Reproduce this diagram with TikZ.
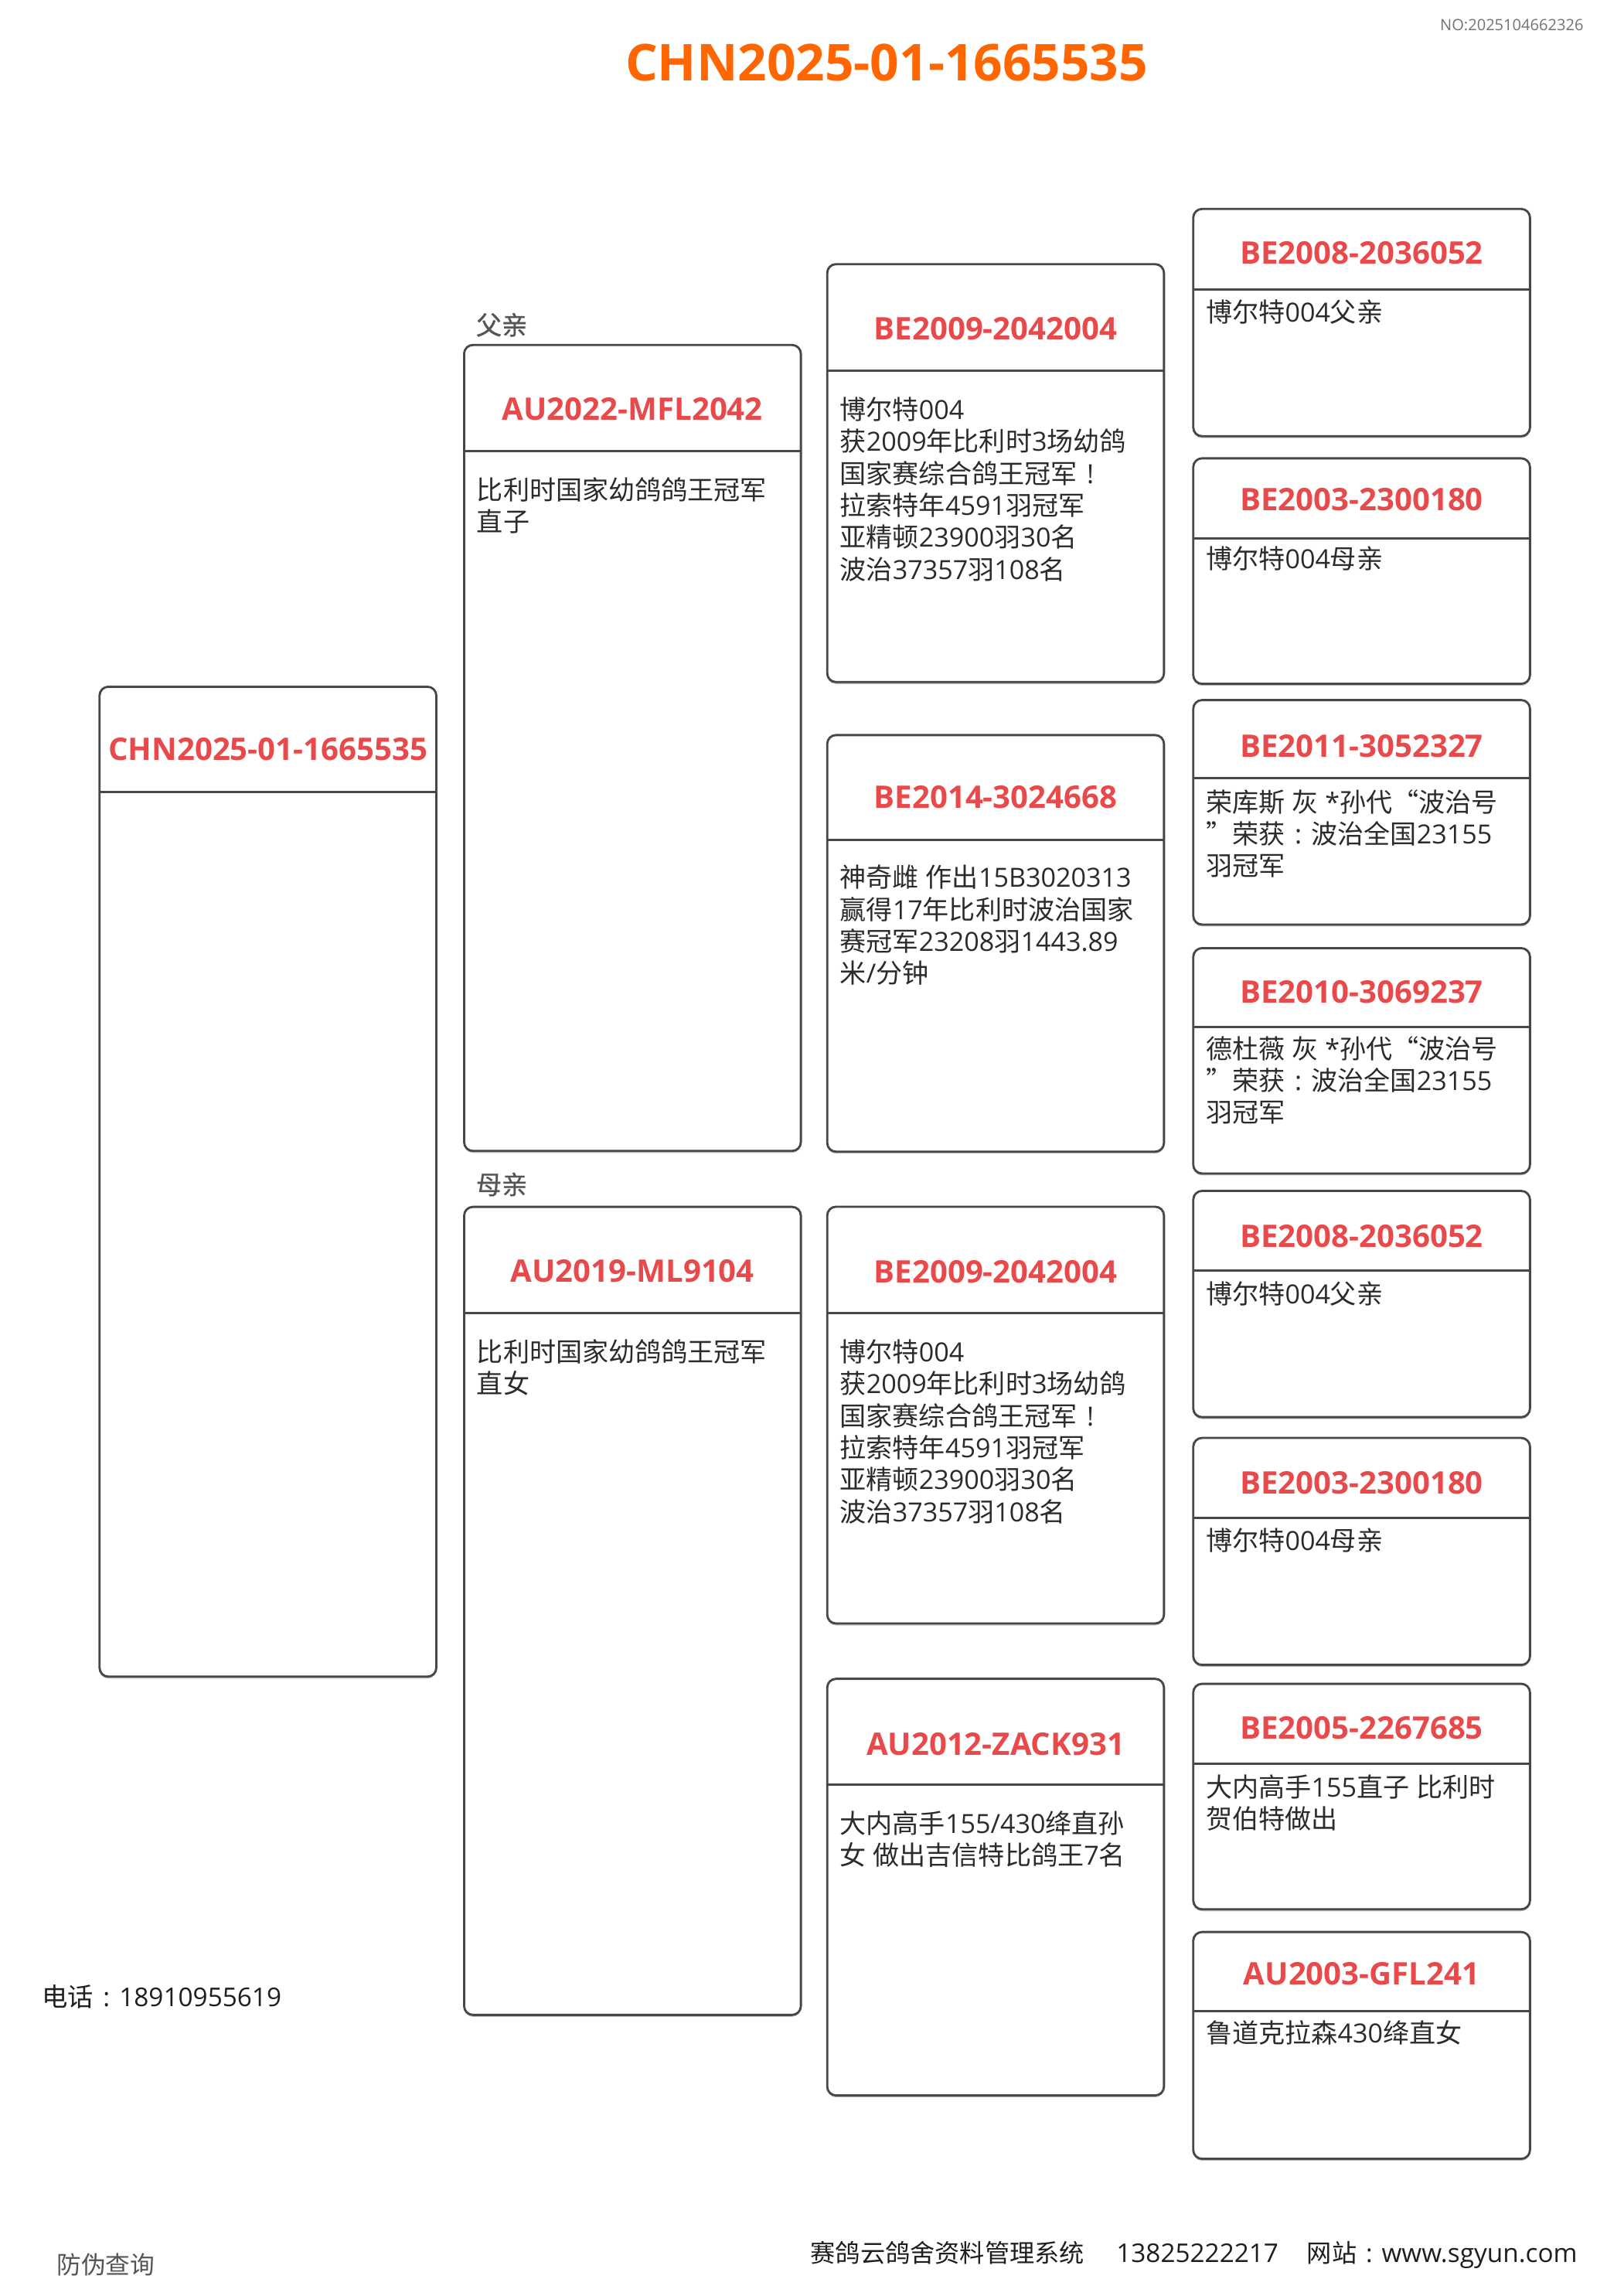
\documentclass[tikz,border=0pt]{standalone}
\usepackage{fontspec}
\setmainfont{Open Sans}
\newfontfamily\cjkfam{Noto Sans CJK SC}
\newfontfamily\cjklab[FakeBold=0.9]{Noto Sans CJK SC}
\usetikzlibrary{shadows}
% switch to the CJK font for CJK characters, back to Open Sans for the rest
\XeTeXinterchartokenstate=1
\chardef\CJKcls=10
\newcount\cjkc
\cjkc="2E80
\loop
  \XeTeXcharclass\cjkc=\CJKcls
  \ifnum\cjkc<"9FFF \advance\cjkc by 1 \repeat
\cjkc="FF00
\loop
  \XeTeXcharclass\cjkc=\CJKcls
  \ifnum\cjkc<"FFEF \advance\cjkc by 1 \repeat
\XeTeXcharclass"201C=\CJKcls
\XeTeXcharclass"201D=\CJKcls
\XeTeXinterchartoks 0 \CJKcls = {\cjkfam}
\XeTeXinterchartoks 4095 \CJKcls = {\cjkfam}
\XeTeXinterchartoks \CJKcls 0 = {\rmfamily}
\XeTeXinterchartoks \CJKcls 4095 = {\rmfamily}
\newcommand\labfont{\XeTeXinterchartokenstate=0\relax\cjklab\fontsize{17.5}{20}\selectfont}

% full-width punctuation drawn centred / in a full em box
\newcommand\fwcolon{\makebox[1em]{:}}
\newcommand\fwexcl{\makebox[1em]{!}}
\newcommand\fwlq{\makebox[1em][r]{“}}
\newcommand\fwrq{\makebox[1em][l]{”}}

\definecolor{boxgray}{HTML}{474747}
\definecolor{hdrred}{HTML}{E84A4C}
\definecolor{titleorange}{HTML}{FF6600}
\definecolor{bodygray}{HTML}{2B2B2B}
\definecolor{nogray}{HTML}{737373}
\definecolor{labgray}{HTML}{555555}
\definecolor{foot}{HTML}{1E1E1E}

\tikzset{
  boxline/.style={draw=boxgray, line width=1.5pt, rounded corners=6pt},
  boxrect/.style={boxline, fill=white,
    drop shadow={shadow xshift=0pt, shadow yshift=-1.3pt, fill=black, opacity=0.25}},
  hdr/.style={anchor=base, inner sep=0pt, text=hdrred,
    font=\fontsize{21.2}{25}\selectfont\bfseries},
  bodytxt/.style={anchor=base west, inner sep=0pt, text=bodygray},
  lab/.style={anchor=base west, inner sep=0pt, text=labgray, font=\labfont},
  foottxt/.style={anchor=base west, inner sep=0pt, text=foot,
    font=\fontsize{17}{20}\selectfont},
  footlat/.style={foottxt, font=\fontsize{17.6}{20}\selectfont},
}

% name, left x, top, divider, bottom, header, header baseline, body baseline, body
\newcommand\pedbox[9]{%
  \path[boxrect] (#2,#3) rectangle (#2+230,#5);
  \draw[boxline] (#2,#4) -- (#2+230,#4);
  \node[hdr] (#1-h) at (#2+115,#7) {#6};
  \node[bodytxt] (#1-b) at (#2+8.5,#8)
    {\parbox[t]{300pt}{\raggedright\fontsize{18}{21.8}\selectfont #9}};
}

\begin{document}
\begin{tikzpicture}[x=1pt,y=-1pt]
\useasboundingbox[fill=white] (0,0) rectangle (1109,1568);

\node[anchor=base east, inner sep=0pt, text=nogray,
  font=\fontsize{10.6}{12}\selectfont] (no) at (1081.7,20.8) {NO:2025104662326};
\node[anchor=base, inner sep=0pt, text=titleorange,
  font=\fontsize{34.7}{40}\selectfont\bfseries] (title) at (605.5,55) {CHN2025-01-1665535};

% generation 0
\pedbox{s}{68}{469}{541}{1145}{CHN2025-01-1665535}{519}{575}{}

% generation 1
\node[lab] (flab) at (325,228.5) {父亲};
\pedbox{f}{317}{235.6}{308.2}{786}{AU2022-MFL2042}{287.2}{341.2}{比利时国家幼鸽鸽王冠军\\直子}
\node[lab] (mlab) at (325,815.5) {母亲};
\pedbox{m}{317}{824.2}{896.9}{1376}{AU2019-ML9104}{875.7}{929.9}{比利时国家幼鸽鸽王冠军\\直女}

% generation 2
\pedbox{ff}{565}{180.4}{253}{465.8}{BE2009-2042004}{232.2}{286.5}{博尔特004\\获2009年比利时3场幼鸽\\国家赛综合鸽王冠军\fwexcl\\拉索特年4591羽冠军\\亚精顿23900羽30名\\波治37357羽108名}
\pedbox{fm}{565}{502}{573.6}{786.5}{BE2014-3024668}{552}{606}{神奇雌 作出15B3020313\\赢得17年比利时波治国家\\赛冠军23208羽1443.89\\米/分钟}
\pedbox{mf}{565}{824.1}{896.8}{1108.7}{BE2009-2042004}{875.9}{930}{博尔特004\\获2009年比利时3场幼鸽\\国家赛综合鸽王冠军\fwexcl\\拉索特年4591羽冠军\\亚精顿23900羽30名\\波治37357羽108名}
\pedbox{mm}{565}{1146.5}{1218.8}{1431}{AU2012-ZACK931}{1198.8}{1252}{大内高手155/430绛直孙\\女 做出吉信特比鸽王7名}

% generation 3
\pedbox{fff}{815}{142.7}{197.7}{297.9}{BE2008-2036052}{180.4}{220}{博尔特004父亲}
\pedbox{ffm}{815}{313}{367.6}{467}{BE2003-2300180}{348.5}{388.5}{博尔特004母亲}
\pedbox{fmf}{815}{478.1}{531.4}{631.4}{BE2011-3052327}{517}{554.5}{荣库斯 灰 *孙代\fwlq 波治号\\\fwrq 荣获\fwcolon 波治全国23155\\羽冠军}
\pedbox{fmm}{815}{647.5}{701.4}{801.4}{BE2010-3069237}{684.8}{722.8}{德杜薇 灰 *孙代\fwlq 波治号\\\fwrq 荣获\fwcolon 波治全国23155\\羽冠军}
\pedbox{mff}{815}{813.3}{867.5}{967.8}{BE2008-2036052}{851.9}{890.5}{博尔特004父亲}
\pedbox{mfm}{815}{982}{1036.7}{1137}{BE2003-2300180}{1020}{1059}{博尔特004母亲}
\pedbox{mmf}{815}{1149.9}{1204.3}{1303.9}{BE2005-2267685}{1187.6}{1227}{大内高手155直子 比利时\\贺伯特做出}
\pedbox{mmm}{815}{1319.4}{1373.6}{1474.3}{AU2003-GFL241}{1355.5}{1395}{鲁道克拉森430绛直女}

% footer texts
\node[anchor=base west, inner sep=0pt, text=foot,
  font=\fontsize{17.6}{21}\selectfont] (tel) at (28.5,1370.5) {电话\fwcolon 18910955619};
\node[anchor=base west, inner sep=0pt, text=labgray,
  font=\fontsize{16.75}{20}\selectfont] (anti) at (38.5,1553) {防伪查询};
\node[foottxt] (sys) at (553.5,1545) {赛鸽云鸽舍资料管理系统};
\node[footlat] (sysno) at (762.3,1545) {13825222217};
\node[foottxt] (web) at (892.5,1545) {网站\fwcolon{\fontsize{17.6}{20}\selectfont www.sgyun.com}};
\end{tikzpicture}
\end{document}
